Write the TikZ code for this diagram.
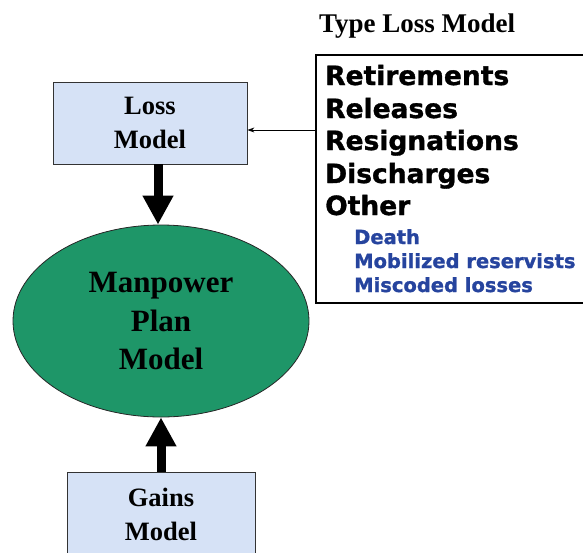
\documentclass[tikz,border=0pt]{standalone}
\usepackage{fontspec}
\setmainfont{Liberation Serif}
\newfontfamily\typesfont[BoldFeatures={FakeBold=1.2}]{DejaVu Sans}
\usetikzlibrary{shapes.geometric,arrows.meta}

\definecolor{boxblue}{RGB}{214,226,246}
\definecolor{plangreen}{RGB}{30,150,104}
\definecolor{typeblue}{RGB}{38,68,158}

\begin{document}
\begin{tikzpicture}[x=1pt,y=-1pt,
	model/.style={draw=black!80, line width=0.8pt, fill=boxblue, rectangle, align=center, inner sep=0pt,
		font=\fontsize{26.5}{34}\selectfont\bfseries},
	flow/.style={line width=9pt, -{Triangle[width=29pt,length=29pt]}},
	bigtype/.style={anchor=base west, inner sep=0pt, font=\typesfont\fontsize{26.5}{30}\selectfont\bfseries},
	subtype/.style={anchor=base west, inner sep=0pt, text=typeblue, font=\typesfont\fontsize{19.5}{22}\selectfont\bfseries}]

	\useasboundingbox (0,0) rectangle (583,552);
	\clip (0,0) rectangle (583,552);

	\node[model, minimum width=194pt, minimum height=82pt] (loss) at (150,123) {Loss\\Model};
	\node[model, minimum width=188pt, minimum height=84pt] (gains) at (161,514) {Gains\\Model};
	\node[ellipse, draw=black!85, line width=0.8pt, fill=plangreen, minimum width=296pt, minimum height=192pt,
		inner sep=0pt, align=center, font=\fontsize{31}{38.5}\selectfont\bfseries] (plan) at (161,321) {Manpower\\Plan\\Model};

	\node[anchor=base west, inner sep=0pt, font=\fontsize{27}{30}\selectfont\bfseries] (title) at (319,32) {Type Loss Model};
	\node[draw, line width=2.5pt, minimum width=290pt, minimum height=248pt, inner sep=0pt] (types) at (461,179) {};

	\node[bigtype] (ret) at (325,85) {Retirements};
	\node[bigtype] (rel) at (325,118) {Releases};
	\node[bigtype] (res) at (325,150) {Resignations};
	\node[bigtype] (dis) at (325,183) {Discharges};
	\node[bigtype] (oth) at (325,215) {Other};
	\node[subtype] (death) at (354,244) {Death};
	\node[subtype] (mob) at (354,268) {Mobilized reservists};
	\node[subtype] (misc) at (354,292) {Miscoded losses};

	\draw[flow] ([xshift=-3pt]plan.north |- loss.south) -- ([xshift=-3pt]plan.north);
	\draw[flow] (gains.north) -- (plan.south);
	\draw[line width=0.8pt, -{Stealth[length=7pt,width=5pt]}] ([yshift=-7pt]loss.east -| types.west) -- ([yshift=-7pt]loss.east);

\end{tikzpicture}
\end{document}
